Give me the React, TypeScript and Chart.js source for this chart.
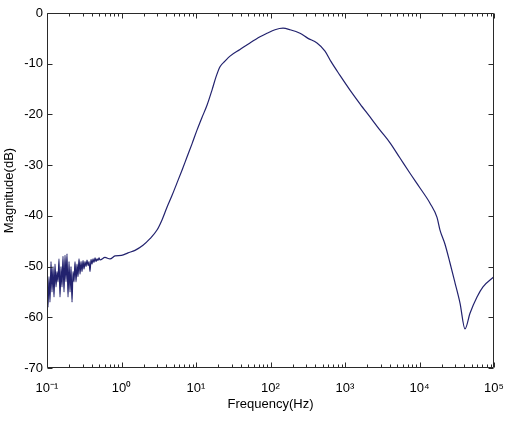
import React, { useEffect, useRef } from 'react';
import { Chart, registerables } from 'chart.js';

Chart.register(...registerables);

// Frequency (Hz) of each sample
const freqHz = [
  0.1, 0.1031, 0.1064, 0.1097, 0.1132, 0.1167, 0.1204, 0.1242, 0.1281, 0.1321,
  0.1362, 0.1405, 0.1449, 0.1495, 0.1542, 0.159, 0.164, 0.1692, 0.1745, 0.18,
  0.1856, 0.1915, 0.1975, 0.2037, 0.2101, 0.2167, 0.2235, 0.2305, 0.2377, 0.2452,
  0.2529, 0.2608, 0.269, 0.2775, 0.2862, 0.2951, 0.3044, 0.314, 0.3238, 0.334,
  0.3445, 0.3553, 0.3664, 0.3779, 0.3898, 0.402, 0.4147, 0.4277, 0.4411, 0.4549,
  0.4692, 0.4839, 0.4991, 0.5148,
  0.6005, 0.701, 0.818, 1.0, 1.222, 1.517, 1.944, 2.413, 2.996, 3.497,
  4.08, 4.76, 5.56, 6.49, 7.57, 8.84, 10.31, 12.03, 14.05, 16.4,
  18.56, 21.0, 24.5, 28.6, 38.96, 53.1, 72.3, 89.7, 114.9, 147.2,
  182.7, 248.9, 318.7, 420.8, 538.9, 650, 857, 1167, 1589, 2166,
  2951, 4020, 5473, 7455, 10155, 13830, 17180, 18840, 21990, 25670,
  29960, 34970, 40810, 47640, 59160, 71170, 100000,
];

// Magnitude (dB) of each sample
const magnitudeDb = [
  -50, -58, -52, -57, -49, -55, -50, -56, -49.5, -54,
  -51, -53, -48.5, -56, -50, -54, -48, -55, -47.8, -53,
  -47.5, -56, -49, -55, -50, -57, -51, -53, -49, -53,
  -49.5, -52, -48.5, -51.5, -49, -51, -48.8, -50.5, -49, -50,
  -48.7, -49.8, -49, -51, -48.6, -49.5, -48.5, -49.2, -48.3, -49,
  -48.5, -48.8, -48.3, -48.7,
  -48.2, -48.5, -47.9, -47.8, -47.3, -46.8, -45.8, -44.5, -42.8, -40.8,
  -38.3, -36, -33.5, -31, -28.4, -25.8, -23.1, -20.6, -18.2, -15.2,
  -12.6, -10.6, -9.5, -8.5, -7.2, -5.9, -4.7, -4.0, -3.3, -3.0,
  -3.3, -4.0, -5.0, -5.9, -7.5, -9.6, -12.3, -15.2, -17.9, -20.5,
  -23.1, -25.6, -28.6, -31.6, -34.5, -37.5, -40.3, -42.8, -45.6, -49.3,
  -53.2, -57.2, -62.3, -59.2, -56, -54, -52,
];

const xDecades = [0.1, 1, 10, 100, 1000, 10000, 100000];
const xDecadeLabels = ['10⁻¹', '10⁰', '10¹', '10²', '10³', '10⁴', '10⁵'];
const yTickValues = [0, -10, -20, -30, -40, -50, -60, -70];
const minorMultipliers = [2, 3, 4, 5, 6, 7, 8, 9];

const FONT = "'Liberation Sans', Arial, Helvetica, sans-serif";
const TEXT = '#000000';
const AXIS = '#2a2a2a';
const LINE = '#22226e';

const framePlugin = {
  id: 'matlabFrame',
  afterDatasetsDraw(chart: any) {
    const { ctx, chartArea: a, scales } = chart;
    const xs = scales.x;
    const ys = scales.y;
    const L = Math.round(a.left) + 0.5;
    const R = Math.round(a.right) - 0.5;
    const T = Math.round(a.top) + 0.5;
    const B = Math.round(a.bottom) - 0.5;
    ctx.save();
    ctx.strokeStyle = AXIS;
    ctx.lineWidth = 1;
    ctx.beginPath();
    ctx.rect(L, T, R - L, B - T);
    ctx.stroke();
    ctx.beginPath();
    const major = 5;
    const minor = 3;
    xDecades.forEach((d, i) => {
      const px = Math.round(xs.getPixelForValue(d)) + 0.5;
      ctx.moveTo(px, B); ctx.lineTo(px, B - major);
      ctx.moveTo(px, T); ctx.lineTo(px, T + major);
      if (i < xDecades.length - 1) {
        minorMultipliers.forEach((m) => {
          const mx = Math.round(xs.getPixelForValue(d * m)) + 0.5;
          ctx.moveTo(mx, B); ctx.lineTo(mx, B - minor);
          ctx.moveTo(mx, T); ctx.lineTo(mx, T + minor);
        });
      }
    });
    yTickValues.forEach((v) => {
      const py = Math.round(ys.getPixelForValue(v)) + 0.5;
      ctx.moveTo(L, py); ctx.lineTo(L + major, py);
      ctx.moveTo(R, py); ctx.lineTo(R - major, py);
    });
    ctx.stroke();
    ctx.restore();
  },
};

export default function App() {
  const canvasRef = useRef<HTMLCanvasElement | null>(null);

  useEffect(() => {
    const canvas = canvasRef.current;
    if (!canvas) return;
    const points = freqHz.map((f, i) => ({ x: f, y: magnitudeDb[i] }));
    const chart = new Chart(canvas, {
      type: 'line',
      data: {
        datasets: [
          {
            data: points,
            borderColor: LINE,
            borderWidth: 1.2,
            pointRadius: 0,
            cubicInterpolationMode: 'monotone',
            fill: false,
          },
        ],
      },
      options: {
        responsive: false,
        animation: false,
        events: [],
        layout: { padding: { top: 13, right: 12, left: 0, bottom: 0 } },
        plugins: {
          legend: { display: false },
          tooltip: { enabled: false },
        },
        scales: {
          x: {
            type: 'logarithmic',
            min: 0.1,
            max: 100000,
            border: { display: false },
            grid: { display: false, drawTicks: false },
            afterBuildTicks: (scale: any) => {
              scale.ticks = xDecades.map((v) => ({ value: v }));
            },
            afterFit: (scale: any) => {
              scale.height = 53;
              scale.paddingLeft = 0;
              scale.paddingRight = 0;
            },
            ticks: {
              autoSkip: false,
              maxRotation: 0,
              padding: 13,
              color: TEXT,
              font: { family: FONT, size: 13 },
              callback: (value: any) => {
                const idx = xDecades.findIndex((d) => Math.abs(d - Number(value)) / d < 1e-6);
                return idx >= 0 ? xDecadeLabels[idx] : '';
              },
            },
            title: {
              display: true,
              text: 'Frequency(Hz)',
              color: TEXT,
              font: { family: FONT, size: 13 },
              padding: { top: 0, bottom: 9 },
            },
          },
          y: {
            type: 'linear',
            min: -70,
            max: 0,
            border: { display: false },
            grid: { display: false, drawTicks: false },
            afterBuildTicks: (scale: any) => {
              scale.ticks = yTickValues.map((v) => ({ value: v }));
            },
            afterFit: (scale: any) => {
              scale.width = 47;
              scale.paddingTop = 0;
              scale.paddingBottom = 0;
            },
            ticks: {
              padding: 4,
              color: TEXT,
              font: { family: FONT, size: 13 },
              callback: (value: any) => String(value),
            },
            title: {
              display: true,
              text: 'Magnitude(dB)',
              color: TEXT,
              font: { family: FONT, size: 13 },
              padding: { top: 2, bottom: 0 },
            },
          },
        },
      },
      plugins: [framePlugin],
    });
    return () => chart.destroy();
  }, []);

  return (
    <div style={{ position: 'fixed', left: 0, top: 0, width: 506, height: 421, background: '#ffffff' }}>
      <canvas ref={canvasRef} width={506} height={421} style={{ display: 'block' }} />
    </div>
  );
}
